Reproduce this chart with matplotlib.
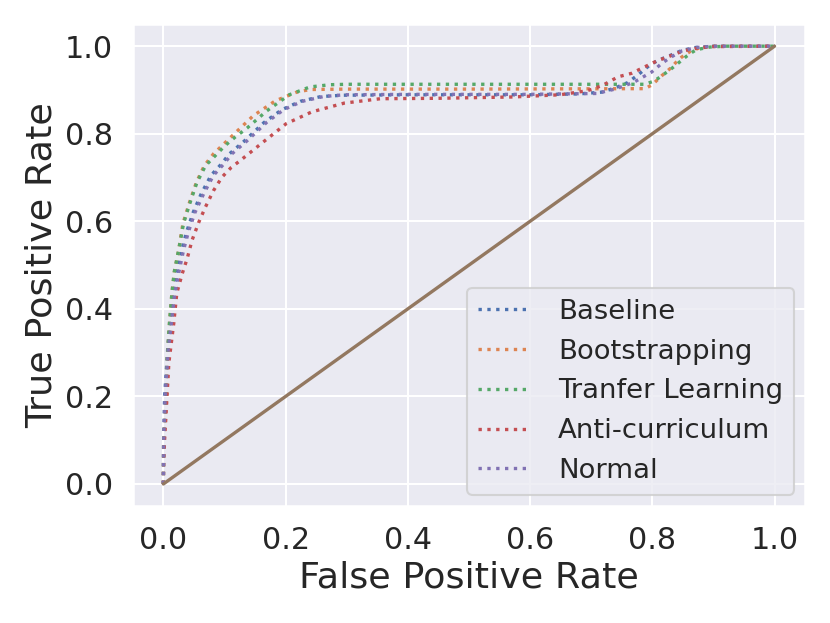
import matplotlib
matplotlib.use("Agg")
import matplotlib.pyplot as plt
import seaborn as sns

sns.set_theme(style="darkgrid")
plt.rcParams['font.family'] = ['DejaVu Sans']

labels = ["Baseline", "Bootstrapping", "Tranfer Learning", "Anti-curriculum", "Normal"]

fpr_baseline = [0, 0.0005, 0.002, 0.007, 0.011, 0.016, 0.022, 0.030, 0.038, 0.049, 0.062, 0.078,
                0.095, 0.108, 0.133, 0.165, 0.194, 0.224, 0.258, 0.294, 0.40, 0.60, 0.68, 0.717,
                0.740, 0.760, 0.778, 0.796, 0.81, 0.826, 0.848, 0.87, 0.90, 1.0]
tpr_baseline = [0, 0.1, 0.2, 0.307, 0.367, 0.428, 0.481, 0.534, 0.576, 0.621, 0.663, 0.705,
                0.731, 0.754, 0.784, 0.826, 0.855, 0.874, 0.885, 0.888, 0.889, 0.889, 0.891, 0.895,
                0.905, 0.917, 0.936, 0.957, 0.968, 0.977, 0.990, 0.997, 1.0, 1.0]

fpr_boot = [0, 0.0005, 0.005, 0.006, 0.010, 0.014, 0.018, 0.025, 0.032, 0.043, 0.054, 0.067,
            0.082, 0.114, 0.147, 0.183, 0.218, 0.240, 0.30, 0.50, 0.788, 0.800, 0.815, 0.831,
            0.838, 0.848, 0.862, 0.875, 0.90, 1.0]
tpr_boot = [0, 0.1, 0.2, 0.277, 0.367, 0.436, 0.485, 0.534, 0.595, 0.644, 0.689, 0.727,
            0.754, 0.797, 0.841, 0.875, 0.895, 0.901, 0.902, 0.902, 0.903, 0.912, 0.932, 0.951,
            0.962, 0.975, 0.988, 0.995, 1.0, 1.0]

fpr_transfer = [0, 0.0005, 0.005, 0.006, 0.010, 0.014, 0.018, 0.025, 0.033, 0.044, 0.055, 0.069,
                0.101, 0.118, 0.137, 0.169, 0.206, 0.240, 0.273, 0.30, 0.50, 0.788, 0.800, 0.809,
                0.819, 0.828, 0.837, 0.856, 0.864, 0.872, 0.894, 0.92, 1.0]
tpr_transfer = [0, 0.1, 0.2, 0.277, 0.367, 0.436, 0.485, 0.534, 0.595, 0.644, 0.689, 0.727,
                0.773, 0.793, 0.813, 0.852, 0.889, 0.907, 0.912, 0.913, 0.913, 0.913, 0.919, 0.926,
                0.936, 0.945, 0.955, 0.977, 0.985, 0.992, 0.998, 1.0, 1.0]

fpr_anti = [0, 0.0005, 0.002, 0.006, 0.009, 0.017, 0.022, 0.031, 0.039, 0.047, 0.058, 0.069,
            0.082, 0.096, 0.111, 0.126, 0.166, 0.201, 0.243, 0.296, 0.355, 0.45, 0.572, 0.649,
            0.692, 0.703, 0.722, 0.744, 0.766, 0.785, 0.807, 0.828, 0.850, 0.875, 0.90, 1.0]
tpr_anti = [0, 0.05, 0.1, 0.2, 0.277, 0.367, 0.436, 0.481, 0.515, 0.557, 0.598, 0.633,
            0.670, 0.701, 0.723, 0.739, 0.784, 0.823, 0.850, 0.870, 0.880, 0.881, 0.884, 0.889,
            0.898, 0.902, 0.913, 0.930, 0.938, 0.951, 0.966, 0.977, 0.989, 0.996, 0.999, 1.0]

fpr_normal = [0, 0.0005, 0.003, 0.008, 0.013, 0.018, 0.025, 0.033, 0.041, 0.052, 0.066, 0.082,
              0.099, 0.112, 0.137, 0.169, 0.197, 0.227, 0.262, 0.296, 0.40, 0.60, 0.709, 0.739,
              0.769, 0.799, 0.815, 0.828, 0.848, 0.872, 0.90, 1.0]
tpr_normal = [0, 0.1, 0.2, 0.307, 0.367, 0.428, 0.481, 0.534, 0.576, 0.621, 0.663, 0.705,
              0.731, 0.754, 0.784, 0.826, 0.855, 0.874, 0.885, 0.889, 0.890, 0.890, 0.892, 0.902,
              0.917, 0.941, 0.960, 0.973, 0.989, 0.997, 1.0, 1.0]

chance = [0, 1]

series = [(fpr_baseline, tpr_baseline), (fpr_boot, tpr_boot), (fpr_transfer, tpr_transfer),
          (fpr_anti, tpr_anti), (fpr_normal, tpr_normal)]

colors = sns.color_palette("deep")

fig = plt.figure(figsize=(830/150, 623/150), dpi=150)
ax = fig.add_axes([0.160, 0.188, 0.810, 0.773])

for (fx, ty), lab, c in zip(series, labels, colors):
    ax.plot(fx, ty, linestyle=':', color=c, linewidth=1.6, label=lab)
ax.plot(chance, chance, color=colors[5], linewidth=1.6)

ax.set_xlabel("False Positive Rate", fontsize=17.5, color='.15', labelpad=3)
ax.set_ylabel("True Positive Rate", fontsize=17.5, color='.15', labelpad=3)
ax.tick_params(labelsize=14.5, colors='.15', length=0, pad=9.5)
ax.legend(loc='lower right', fontsize=13.2, handlelength=1.9, handletextpad=1.0,
          borderaxespad=0.4)

fig.savefig("out.png", dpi=150)
